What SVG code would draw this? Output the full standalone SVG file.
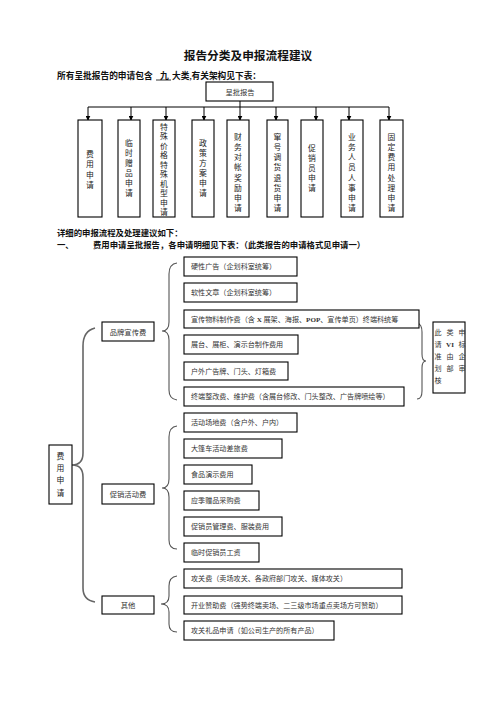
<svg xmlns="http://www.w3.org/2000/svg" width="496" height="702" viewBox="0 0 496 702">
<defs>
<marker id="ah" viewBox="0 0 8 8" refX="7" refY="4" markerWidth="5" markerHeight="5" orient="auto" markerUnits="userSpaceOnUse">
<path d="M0,0 L8,4 L0,8 z" fill="#000"/>
</marker>
<style>
text{font-family:"Liberation Serif","Noto Sans CJK SC",serif;fill:#111}
.h{font-weight:bold}
.box{fill:#fff;stroke:#000;stroke-width:1.1}
.col{font-size:7.8px;text-anchor:middle;fill:#222}
.it{font-size:7.1px;fill:#333}
.lb{font-size:7.3px;text-anchor:middle;fill:#333}
.nt{font-size:7.1px;fill:#333;text-anchor:middle}
.con{fill:none;stroke:#000;stroke-width:1}
.br{fill:none;stroke:#555;stroke-width:1.1}
.bb{fill:none;stroke:#666;stroke-width:1.6}
</style>
</defs>
<rect width="496" height="702" fill="#fff"/>
<text class="h" x="248" y="60" font-size="11.7" text-anchor="middle">报告分类及申报流程建议</text>
<text class="h" x="57" y="78.5" font-size="8.7">所有呈批报告的申请包含</text>
<text class="h" x="160" y="78.5" font-size="8.7">九</text>
<line x1="156" y1="80" x2="171" y2="80" stroke="#000" stroke-width="0.8"/>
<text class="h" x="172" y="78.5" font-size="8.7">大类,有关架构见下表：</text>
<text class="h" x="57" y="236" font-size="8.4">详细的申报流程及处理建议如下：</text>
<text class="h" x="57" y="247.5" font-size="8.4">一、</text>
<text class="h" x="93" y="247.5" font-size="8.4">费用申请呈批报告，各申请明细见下表：（此类报告的申请格式见申请一）</text>

<g id="connectors">
<path class="con" d="M240,101 V107 M88,107 H389"/>
<line class="con" x1="88" y1="107" x2="88" y2="120" marker-end="url(#ah)"/>
<line class="con" x1="131" y1="107" x2="131" y2="120" marker-end="url(#ah)"/>
<line class="con" x1="166" y1="107" x2="166" y2="120" marker-end="url(#ah)"/>
<line class="con" x1="204" y1="107" x2="204" y2="120" marker-end="url(#ah)"/>
<line class="con" x1="240" y1="107" x2="240" y2="120" marker-end="url(#ah)"/>
<line class="con" x1="276" y1="107" x2="276" y2="120" marker-end="url(#ah)"/>
<line class="con" x1="316" y1="107" x2="316" y2="120" marker-end="url(#ah)"/>
<line class="con" x1="349" y1="107" x2="349" y2="120" marker-end="url(#ah)"/>
<line class="con" x1="389" y1="107" x2="389" y2="120" marker-end="url(#ah)"/>
<path class="bb" d="M95,328 Q83,331 83,346 L83,453 Q83,465 72,465 Q83,465 83,477 L83,588 Q83,600 95,602"/>
<path class="br" d="M177,263 Q169,264 169,274 L169,322 Q169,331 162,331 Q169,331 169,340 L169,390 Q169,399 177,400"/>
<path class="br" d="M177,426 Q169,427 169,437 L169,479 Q169,488 162,488 Q169,488 169,497 L169,540 Q169,549 177,549"/>
<path class="br" d="M177,576 Q169,577 169,586 L169,596 Q169,604 161,604 Q169,604 169,612 L169,624 Q169,632 177,632"/>
<path class="br" d="M417,323 Q422,324 422,332 L422,354 Q422,361 426,361 Q422,361 422,368 L422,391 Q422,399 417,399"/>
</g>

<g id="root"><rect class="box" x="206" y="82" width="67" height="19"/><text class="lb" x="240" y="94.5" font-size="7.5">呈批报告</text></g>

<g id="c1"><rect class="box" x="78" y="120" width="24" height="97"/><text class="col" x="90 90 90 90" y="156.5 167 177.5 188">费用申请</text></g>
<g id="c2"><rect class="box" x="118" y="120" width="22" height="97"/><text class="col" x="129 129 129 129 129 129" y="146 156 166 176 186 196">临时赠品申请</text></g>
<g id="c3"><rect class="box" x="153" y="120" width="22" height="97"/><text class="col" x="164 164 164 164 164 164 164 164 164 164" y="130 139.4 148.9 158.3 167.8 177.2 186.7 196.1 205.6 215">特殊价格特殊机型申请</text></g>
<g id="c4"><rect class="box" x="192" y="120" width="22" height="97"/><text class="col" x="203 203 203 203 203 203" y="146 156 166 176 186 196">政策方案申请</text></g>
<g id="c5"><rect class="box" x="227" y="120" width="22" height="97"/><text class="col" x="238 238 238 238 238 238 238 238" y="139.7 149.9 160.1 170.4 180.6 190.8 201 211.3">财务对帐奖励申请</text></g>
<g id="c6"><rect class="box" x="267" y="120" width="21" height="97"/><text class="col" x="277.5 277.5 277.5 277.5 277.5 277.5 277.5 277.5" y="139.7 149.9 160.1 170.4 180.6 190.8 201 211.3">窜号调货退货申请</text></g>
<g id="c7"><rect class="box" x="301" y="120" width="22" height="97"/><text class="col" x="312 312 312 312 312" y="151.3 161.3 171.3 181.3 191.3">促销员申请</text></g>
<g id="c8"><rect class="box" x="341" y="120" width="22" height="97"/><text class="col" x="352 352 352 352 352 352 352 352" y="139.7 149.9 160.1 170.4 180.6 190.8 201 211.3">业务人员人事申请</text></g>
<g id="c9"><rect class="box" x="380" y="120" width="23" height="97"/><text class="col" x="391.5 391.5 391.5 391.5 391.5 391.5 391.5 391.5" y="139.7 149.9 160.1 170.4 180.6 190.8 201 211.3">固定费用处理申请</text></g>

<g id="fee"><rect class="box" x="49" y="445" width="23" height="59"/><text class="col" x="60.5 60.5 60.5 60.5" y="458.7 471 483.3 495.6">费用申请</text></g>

<g id="brand"><rect class="box" x="102" y="322" width="52" height="19"/><text class="lb" x="128" y="334.5">品牌宣传费</text></g>
<g id="promo"><rect class="box" x="102" y="484" width="52" height="20"/><text class="lb" x="128" y="496.5">促销活动费</text></g>
<g id="other"><rect class="box" x="102" y="596" width="52" height="18"/><text class="lb" x="128" y="607.5">其他</text></g>

<g id="b1"><rect class="box" x="184" y="257" width="113" height="19"/><text class="it" x="191" y="269">硬性广告（企划科室统筹）</text></g>
<g id="b2"><rect class="box" x="184" y="283" width="113" height="19"/><text class="it" x="191" y="295">软性文章（企划科室统筹）</text></g>
<g id="b3"><rect class="box" x="184" y="310" width="235" height="18"/><text class="it" x="191" y="321.5">宣传物料制作费（含 <tspan font-weight="bold">X</tspan> 展架、海报、<tspan font-weight="bold">POP</tspan>、宣传单页）终端科统筹</text></g>
<g id="b4"><rect class="box" x="184" y="335" width="114" height="19"/><text class="it" x="191" y="347">展台、展柜、演示台制作费用</text></g>
<g id="b5"><rect class="box" x="184" y="362" width="104" height="18"/><text class="it" x="191" y="373.5">户外广告牌、门头、灯箱费</text></g>
<g id="b6"><rect class="box" x="184" y="387" width="220" height="19"/><text class="it" x="191" y="399">终端整改费、维护费（含展台修改、门头整改、广告牌喷绘等）</text></g>

<g id="note"><rect class="box" x="433" y="322" width="32" height="71"/>
<text class="nt"><tspan x="438" y="334.5">此</tspan><tspan x="450" y="334.5">类</tspan><tspan x="462" y="334.5">申</tspan><tspan x="438" y="346.5">请</tspan><tspan x="450" y="346.5" font-weight="bold">VI</tspan><tspan x="462" y="346.5">标</tspan><tspan x="438" y="358.5">准</tspan><tspan x="450" y="358.5">由</tspan><tspan x="462" y="358.5">企</tspan><tspan x="438" y="370.5">划</tspan><tspan x="450" y="370.5">部</tspan><tspan x="462" y="370.5">审</tspan><tspan x="438" y="383">核</tspan></text>
</g>

<g id="p1"><rect class="box" x="184" y="413" width="113" height="19"/><text class="it" x="191" y="425">活动场地费（含户外、户内）</text></g>
<g id="p2"><rect class="box" x="184" y="439" width="98" height="19"/><text class="it" x="191" y="451">大篷车活动差旅费</text></g>
<g id="p3"><rect class="box" x="184" y="465" width="68" height="19"/><text class="it" x="191" y="477">食品演示费用</text></g>
<g id="p4"><rect class="box" x="184" y="491" width="75" height="19"/><text class="it" x="191" y="503">应季赠品采购费</text></g>
<g id="p5"><rect class="box" x="184" y="517" width="98" height="19"/><text class="it" x="191" y="529">促销员管理费、服装费用</text></g>
<g id="p6"><rect class="box" x="184" y="543" width="75" height="19"/><text class="it" x="191" y="555">临时促销员工资</text></g>

<g id="o1"><rect class="box" x="184" y="569" width="218" height="19"/><text class="it" x="191" y="581">攻关费（卖场攻关、各政府部门攻关、媒体攻关）</text></g>
<g id="o2"><rect class="box" x="184" y="596" width="218" height="18"/><text class="it" x="191" y="607.5">开业赞助费（强势终端卖场、二三级市场重点卖场方可赞助）</text></g>
<g id="o3"><rect class="box" x="184" y="621" width="150" height="19"/><text class="it" x="191" y="633">攻关礼品申请（如公司生产的所有产品）</text></g>
</svg>
